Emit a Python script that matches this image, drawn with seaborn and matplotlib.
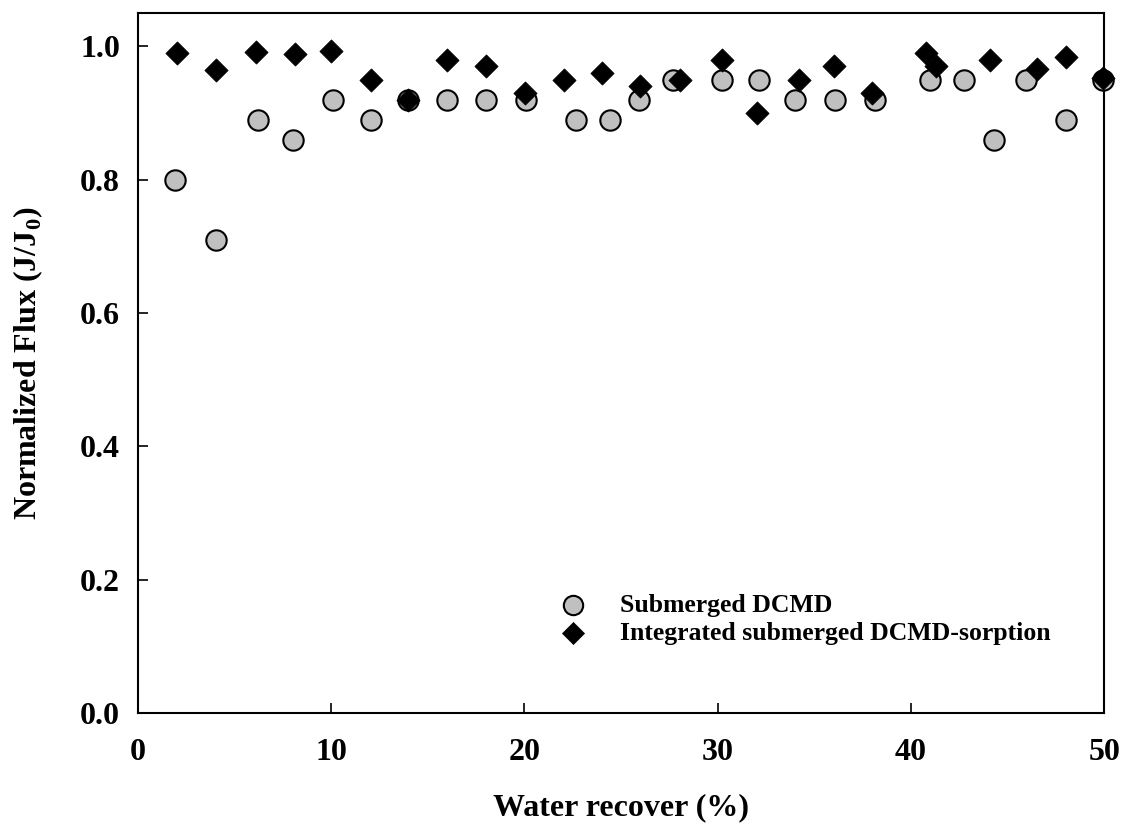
import matplotlib
matplotlib.use("Agg")
import matplotlib.pyplot as plt
import seaborn as sns
import pandas as pd

# Data
dcmd_x = [1.9, 4.05, 6.2, 8.0, 10.1, 12.05, 13.95, 16.0, 18.0, 20.1, 22.65, 24.4, 25.95,
          27.7, 30.2, 32.15, 34.0, 36.05, 38.15, 41.0, 42.75, 44.3, 45.95, 48.0, 49.95]
dcmd_y = [0.80, 0.71, 0.89, 0.86, 0.92, 0.89, 0.92, 0.92, 0.92, 0.92, 0.89, 0.89, 0.92,
          0.95, 0.95, 0.95, 0.92, 0.92, 0.92, 0.95, 0.95, 0.86, 0.95, 0.89, 0.95]
sorp_x = [2.0, 4.05, 6.1, 8.1, 10.0, 12.05, 13.95, 16.0, 18.0, 20.05, 22.05, 24.0, 26.0,
          28.05, 30.2, 32.05, 34.2, 36.0, 38.0, 40.8, 41.3, 44.1, 46.5, 48.0, 49.95]
sorp_y = [0.990, 0.965, 0.992, 0.989, 0.993, 0.950, 0.920, 0.980, 0.970, 0.930, 0.950, 0.960, 0.940,
          0.950, 0.980, 0.900, 0.950, 0.970, 0.930, 0.990, 0.970, 0.980, 0.966, 0.984, 0.953]
series_labels = ["Submerged DCMD", "Integrated submerged DCMD-sorption"]
x_ticks = [0, 10, 20, 30, 40, 50]
y_ticks = [0.0, 0.2, 0.4, 0.6, 0.8, 1.0]

df1 = pd.DataFrame({"x": dcmd_x, "y": dcmd_y})
df2 = pd.DataFrame({"x": sorp_x, "y": sorp_y})

sns.set_style("ticks")
plt.rcParams["font.family"] = ["Liberation Serif", "DejaVu Serif"]
plt.rcParams["font.weight"] = "bold"
for k in ["text.color", "axes.labelcolor", "xtick.color", "ytick.color", "axes.edgecolor"]:
    plt.rcParams[k] = "black"
plt.rcParams["mathtext.fontset"] = "custom"
plt.rcParams["mathtext.rm"] = "Liberation Serif:bold"
plt.rcParams["mathtext.bf"] = "Liberation Serif:bold"

fig = plt.figure(figsize=(11.26, 8.27), dpi=100)
ax = fig.add_axes([0.1226, 0.1378, 0.858, 0.8465])

sns.scatterplot(data=df1, x="x", y="y", ax=ax, marker="o", s=215, color="#c0c0c0",
                edgecolor="black", linewidth=1.5, label=series_labels[0], clip_on=False, zorder=3)
sns.scatterplot(data=df2, x="x", y="y", ax=ax, marker="D", s=140, color="black",
                edgecolor="black", linewidth=0.5, label=series_labels[1], clip_on=False, zorder=4)

ax.set_xlim(0, 50)
ax.set_ylim(0, 1.05)
ax.set_xticks(x_ticks)
ax.set_yticks(y_ticks)
ax.set_xticklabels([str(t) for t in x_ticks])
ax.set_yticklabels([f"{t:.1f}" for t in y_ticks])
ax.tick_params(direction="in", length=7, width=1.2, labelsize=23, pad=18)
ax.tick_params(axis="y", pad=13)
for sp in ax.spines.values():
    sp.set_linewidth(1.5)
    sp.set_visible(True)

ax.set_xlabel("Water recover (%)", fontsize=23, fontweight="bold", labelpad=19)
ax.set_ylabel(r"Normalized Flux (J/J$_\mathbf{0}$)", fontsize=23, fontweight="bold", labelpad=25)

leg = ax.legend(loc="center left", bbox_to_anchor=(0.40, 0.134), frameon=False,
                prop={"size": 18.5, "weight": "bold"}, handletextpad=0.8, labelspacing=0.2,
                markerscale=0.95)

fig.savefig("out.png", dpi=100)
